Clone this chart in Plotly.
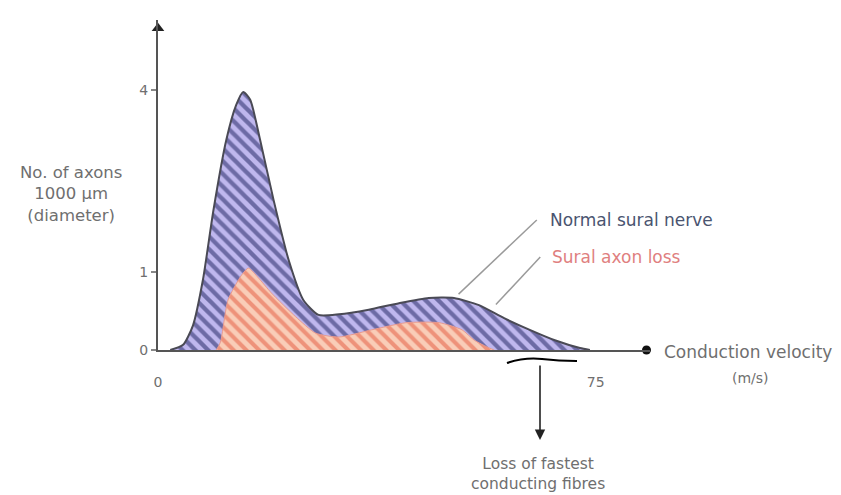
import plotly.graph_objects as go

# Conduction velocity (m/s) and axon counts for the normal sural nerve
normal_velocity = [2.1, 4.3, 6.0, 7.7, 9.5, 11.7, 13.4, 14.6, 15.8, 17.5, 19.8, 22.4, 24.9,
                   27.5, 31.0, 36.1, 41.3, 46.4, 50.7, 55.0, 59.3, 63.7, 68.0, 72.3, 74.0]
normal_count = [0.0, 0.08, 0.38, 1.08, 2.15, 3.23, 3.77, 3.97, 3.85, 3.23, 2.31, 1.38, 0.77,
                0.54, 0.55, 0.62, 0.72, 0.80, 0.80, 0.69, 0.49, 0.31, 0.15, 0.03, 0.0]

# Distribution after sural axon loss
loss_velocity = [10.0, 10.7, 12.0, 14.3, 15.5, 17.2, 19.4, 23.6, 27.0, 31.0, 36.6, 42.5,
                 48.2, 52.1, 54.2, 56.8, 57.6]
loss_count = [0.0, 0.12, 0.77, 1.15, 1.26, 1.11, 0.88, 0.51, 0.26, 0.20, 0.31, 0.42,
              0.42, 0.31, 0.15, 0.03, 0.0]

y_tick_values = [0, 1.2, 4]
y_tick_text = ["0", "1", "4"]
x_tick_values = [0, 75]
x_tick_text = ["0", "75"]

FONT = "DejaVu Sans"
GREY = "#6f6f6f"

# plot area in pixels: used to place the outside labels in paper units
L, R, T, B = 158, 650, 20, 350


def px(x):
    return (x - L) / (R - L)


def py(y):
    return (B - y) / (B - T)


fig = go.Figure()

fig.add_trace(go.Scatter(
    x=normal_velocity, y=normal_count, mode="lines",
    line=dict(color="#4a4a55", width=2, shape="spline", smoothing=0.6),
    fill="tozeroy", fillcolor="#bdb5ea",
    fillpattern=dict(shape="\\", bgcolor="#bfb7ee", fgcolor="#1b1f5c",
                     size=9, solidity=0.48),
    hoverinfo="skip", showlegend=False,
))

fig.add_trace(go.Scatter(
    x=loss_velocity, y=loss_count, mode="lines",
    line=dict(color="#e89a90", width=1, shape="spline", smoothing=0.6),
    fill="tozeroy", fillcolor="#f8c8b2",
    fillpattern=dict(shape="\\", bgcolor="#f9cdb8", fgcolor="#e4583c",
                     size=9, solidity=0.45),
    hoverinfo="skip", showlegend=False,
))

# axis end markers
fig.add_trace(go.Scatter(
    x=[0], y=[4.95], mode="markers",
    marker=dict(symbol="triangle-up", size=11, color="#222"),
    hoverinfo="skip", showlegend=False, cliponaxis=False,
))
fig.add_trace(go.Scatter(
    x=[83.7], y=[0], mode="markers",
    marker=dict(symbol="circle", size=9, color="#111"),
    hoverinfo="skip", showlegend=False, cliponaxis=False,
))

annotations = [
    dict(x=px(540), y=py(440), ax=0, ay=-76, xref="paper", yref="paper",
         axref="pixel", ayref="pixel",
         showarrow=True, arrowhead=2, arrowsize=1.3, arrowwidth=1.6, arrowcolor="#222", text=""),
    dict(x=px(538), y=py(474), xref="paper", yref="paper", xanchor="center", yanchor="middle",
         text="Loss of fastest<br>conducting fibres",
         showarrow=False, font=dict(family=FONT, size=15.5, color=GREY), align="center"),
    dict(x=66.8, y=2.0, xref="x", yref="y", xanchor="left", yanchor="middle",
         text="Normal sural nerve",
         showarrow=False, font=dict(family=FONT, size=17, color="#4a5470")),
    dict(x=67.2, y=1.43, xref="x", yref="y", xanchor="left", yanchor="middle",
         text="Sural axon loss",
         showarrow=False, font=dict(family=FONT, size=17, color="#e07f7f")),
    dict(x=px(662), y=py(352), xref="paper", yref="paper", xanchor="left", yanchor="middle",
         text="Conduction velocity",
         showarrow=False, font=dict(family=FONT, size=17, color=GREY)),
    dict(x=px(750), y=py(378), xref="paper", yref="paper", xanchor="center", yanchor="middle",
         text="(m/s)",
         showarrow=False, font=dict(family=FONT, size=14, color=GREY)),
    dict(x=px(71), y=py(194), xref="paper", yref="paper", xanchor="center", yanchor="middle",
         text="No. of axons<br>1000 µm<br>(diameter)",
         showarrow=False, font=dict(family=FONT, size=16.5, color=GREY), align="center"),
]

brace_path = "M {:.4f},{:.4f} Q {:.4f},{:.4f} {:.4f},{:.4f} T {:.4f},{:.4f}".format(
    px(507), py(363), px(525), py(357), px(542), py(359), px(577), py(361))

shapes = [
    dict(type="line", xref="x", yref="y", x0=64.9, y0=2.0, x1=51.5, y1=0.86,
         line=dict(color="#9a9a9a", width=1.5)),
    dict(type="line", xref="x", yref="y", x0=65.5, y0=1.43, x1=57.9, y1=0.7,
         line=dict(color="#9a9a9a", width=1.5)),
    dict(type="path", xref="paper", yref="paper", path=brace_path,
         line=dict(color="black", width=2.2)),
]

fig.update_layout(
    width=841, height=495,
    margin=dict(l=L, r=841 - R, t=T, b=495 - B),
    paper_bgcolor="white", plot_bgcolor="white",
    annotations=annotations, shapes=shapes,
    xaxis=dict(range=[0, 84.3], showgrid=False, zeroline=False,
               showline=True, linecolor="#555", linewidth=2,
               tickvals=x_tick_values, ticktext=x_tick_text, ticks="",
               ticklabelstandoff=18, tickfont=dict(family=FONT, size=14, color=GREY)),
    yaxis=dict(range=[0, 5.077], showgrid=False, zeroline=False,
               showline=True, linecolor="#555", linewidth=2,
               tickvals=y_tick_values, ticktext=y_tick_text, ticks="outside",
               ticklen=5, tickcolor="#888", tickwidth=1.5,
               tickfont=dict(family=FONT, size=14, color=GREY)),
    font=dict(family=FONT),
)

fig.write_html("out.html")
